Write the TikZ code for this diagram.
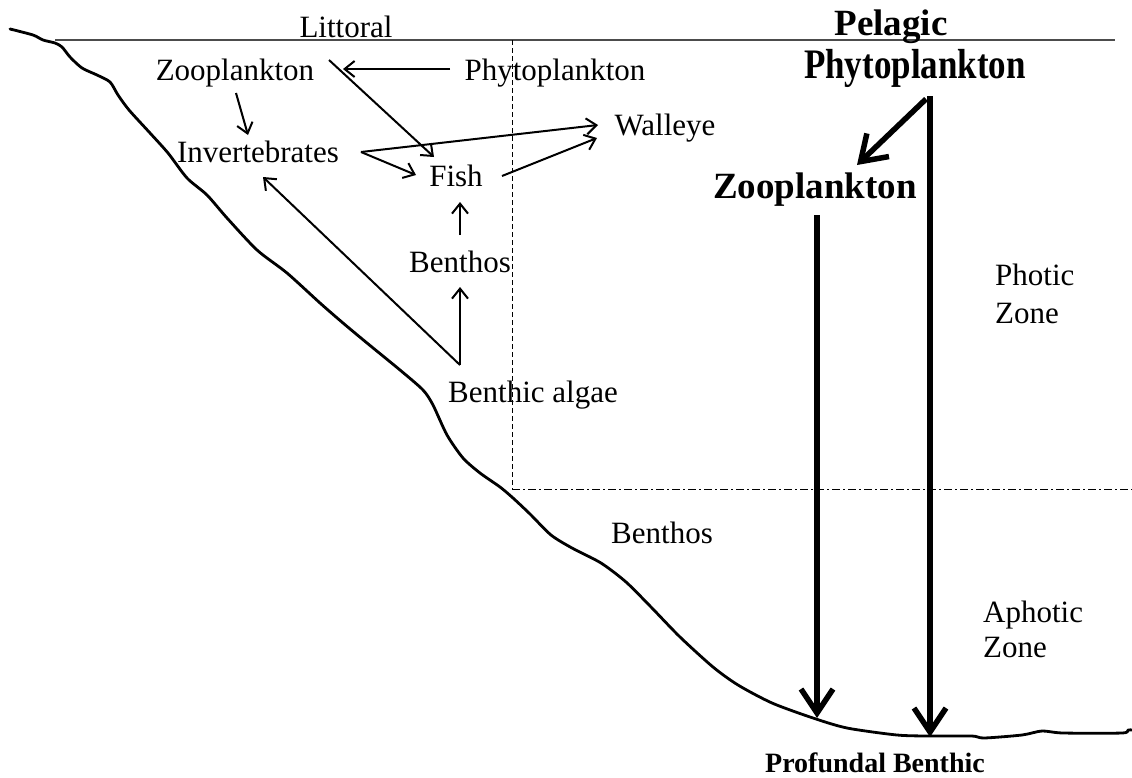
\documentclass[tikz,border=0pt]{standalone}
\usepackage{fontspec}
\setmainfont{Liberation Serif}
\usetikzlibrary{arrows.meta,calc}
\begin{document}
\begin{tikzpicture}[x=1pt,y=-1pt,
  lbl/.style={inner sep=0pt, anchor=base, font=\fontsize{31}{37}\selectfont},
  lblw/.style={inner sep=0pt, anchor=base west, font=\fontsize{31}{37}\selectfont},
  blbl/.style={inner sep=0pt, anchor=base, font=\fontsize{37}{44}\selectfont\bfseries},
  fw/.style={line width=2pt, -{Straight Barb[length=10pt,width=16pt]}},
  bigarrow/.style={line width=5.5pt, -{Straight Barb[length=24pt,width=32pt]}},
  shore/.style={line width=2.8pt, line join=round, line cap=round},
]
\useasboundingbox (0,0) rectangle (1132,777);
\fill[white] (0,0) rectangle (1132,777);

% surface line
\draw[draw=black!70, line width=1.3pt] (55,40) -- (1115,40);

% zone boundaries
\draw[line width=1pt, dash pattern=on 5pt off 3pt] (512,40) -- (512,489);
\draw[line width=1pt, dash pattern=on 8pt off 3pt on 2pt off 3pt] (512,489) -- (1132,489);

% lake bottom
\draw[shore] plot[smooth, tension=0.45] coordinates {
 (10,29) (33,35) (43,40) (55,43) (62,47) (70,57) (82,68) (97,75) (110,82)
 (118,95) (129,110) (150,133) (168,153) (187,178) (207,195) (227,218)
 (257,250) (287,273) (320,303) (343,323) (367,343) (400,370) (423,390)
 (433,405) (447,435) (463,458) (480,473) (500,487) (513,498) (530,514)
 (551,535) (572,548) (601,563) (626,582) (651,607) (680,637) (713,667)
 (738,685) (772,703) (813,718) (847,728) (897,735) (930,736) (972,736)
 (984,738) (1022,735) (1042,731) (1063,733) (1122,733) (1128,730) (1132,730)};

% labels
\node[lbl] (lit) at (346,37) {Littoral};
\node[lbl] (zooR) at (235,80) {Zooplankton};
\node[lbl] (phyR) at (555,80) {Phytoplankton};
\node[lbl] (inv) at (258,162) {Invertebrates};
\node[lbl] (fish) at (456,186) {Fish};
\node[lbl] (wal) at (665,135) {Walleye};
\node[lbl] (benA) at (460,272) {Benthos};
\node[lbl] (alg) at (533,402) {Benthic algae};
\node[lbl] (benB) at (662,543) {Benthos};
\node[lblw] (pho1) at (995,285) {Photic};
\node[lblw] (pho2) at (995,323) {Zone};
\node[lblw] (aph1) at (983,622) {Aphotic};
\node[lblw] (aph2) at (983,657) {Zone};

\node[blbl] (pel) at (891,35) {Pelagic};
\node[inner sep=0pt, anchor=base, font=\fontsize{35}{42}\selectfont\bfseries] (phyB) at (915,78) {\scalebox{1}[1.2]{Phytoplankton}};
\node[blbl] (zooB) at (815,198) {Zooplankton};
\node[inner sep=0pt, anchor=base, font=\fontsize{28}{34}\selectfont\bfseries] (prof) at (875,772) {Profundal Benthic};

% arrow end points
\coordinate (pz1) at (450,69);  \coordinate (pz2) at (343,69);
\coordinate (zf1) at (329,60);  \coordinate (zf2) at (434,157);
\coordinate (zi1) at (236,93);  \coordinate (zi2) at (248,135);
\coordinate (iv) at (361,152);
\coordinate (if2) at (416,175);
\coordinate (iw2) at (598,125);
\coordinate (fw1) at (502,176); \coordinate (fw2) at (597,138);
\coordinate (bf1) at (460,235); \coordinate (bf2) at (460,202);
\coordinate (ab) at (460,365);
\coordinate (ab2) at (460,287);
\coordinate (ai2) at (263,177);

\draw[fw] (pz1) -- (pz2);
\draw[fw] (zf1) -- (zf2);
\draw[fw] (zi1) -- (zi2);
\draw[fw] (iv) -- (if2);
\draw[fw] (iv) -- (iw2);
\draw[fw] (fw1) -- (fw2);
\draw[fw] (bf1) -- (bf2);
\draw[fw] (ab) -- (ab2);
\draw[fw] (ab) -- (ai2);

% pelagic arrows
\coordinate (pp) at (930,96);
\coordinate (pd) at (926,99);
\coordinate (pzt) at (857,165);
\coordinate (pbot) at (930,737);
\coordinate (zb1) at (817,215);
\coordinate (zb2) at (817,718);
\draw[bigarrow] (pd) -- (pzt);
\draw[bigarrow] (pp) -- (pbot);
\draw[bigarrow] (zb1) -- (zb2);
\end{tikzpicture}
\end{document}
